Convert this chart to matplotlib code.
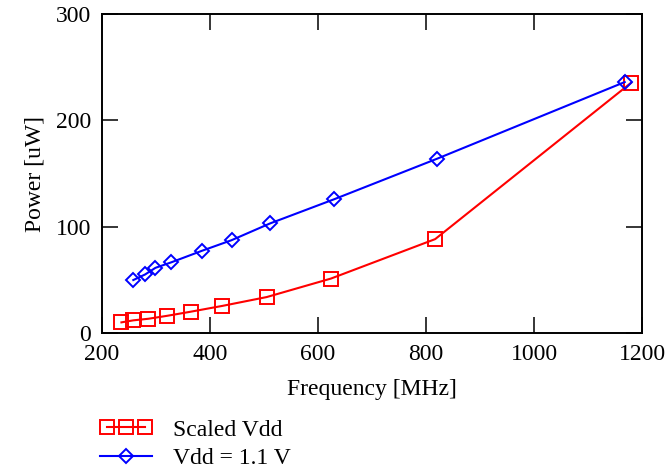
import matplotlib
matplotlib.use("Agg")
from matplotlib import pyplot as plt
from matplotlib.legend_handler import HandlerLine2D

# frequency [MHz] / power [uW]
freq_scaled = [236, 258, 286, 321, 364, 423, 505, 624, 817, 1180]
power_scaled = [10.0, 11.9, 13.4, 16.2, 20.0, 25.5, 33.8, 51.2, 88.3, 235.4]

freq_fixed = [258, 280, 299, 328, 385, 440, 511, 630, 821, 1168]
power_fixed = [49.8, 55.1, 61.3, 66.4, 77.3, 87.3, 103.0, 125.8, 164.0, 236.0]

x_ticks = [200, 400, 600, 800, 1000, 1200]
y_ticks = [0, 100, 200, 300]

plt.rcParams['font.family'] = ['Liberation Serif', 'DejaVu Serif']
plt.rcParams['font.size'] = 17

fig = plt.figure(figsize=(6.72, 4.73), dpi=100)
ax = fig.add_axes([102/672, 1 - 333/473, 540/672, 319/473])

red_line, = ax.plot(freq_scaled, power_scaled, color='#ff0000', lw=1.5,
                    marker='s', ms=10, mfc='none', mec='#ff0000', mew=1.4,
                    label='Scaled Vdd')
blue_line, = ax.plot(freq_fixed, power_fixed, color='#0000ff', lw=1.5,
                     marker='D', ms=7.5, mfc='none', mec='#0000ff', mew=1.4,
                     label='Vdd = 1.1 V')

ax.set_xlim(200, 1200)
ax.set_ylim(0, 300)
ax.set_xticks(x_ticks)
ax.set_yticks(y_ticks)
ax.tick_params(direction='in', length=11.5, width=1.1, top=True, right=True,
               labelsize=17, pad=8)
for s in ax.spines.values():
    s.set_linewidth(1.4)

ax.set_xlabel('Frequency [MHz]', fontsize=17, labelpad=10)
ax.set_ylabel('Power [uW]', fontsize=17, labelpad=7)

fig.legend(handles=[red_line, blue_line],
           handler_map={red_line: HandlerLine2D(numpoints=3),
                        blue_line: HandlerLine2D(numpoints=1)},
           loc='upper left', bbox_to_anchor=(100/672, 1 - 419/473),
           borderaxespad=0, borderpad=0,
           frameon=False, fontsize=17, handlelength=2.2, handletextpad=0.88,
           labelspacing=0.3, markerscale=1.0)

fig.savefig('out.png', dpi=100)
